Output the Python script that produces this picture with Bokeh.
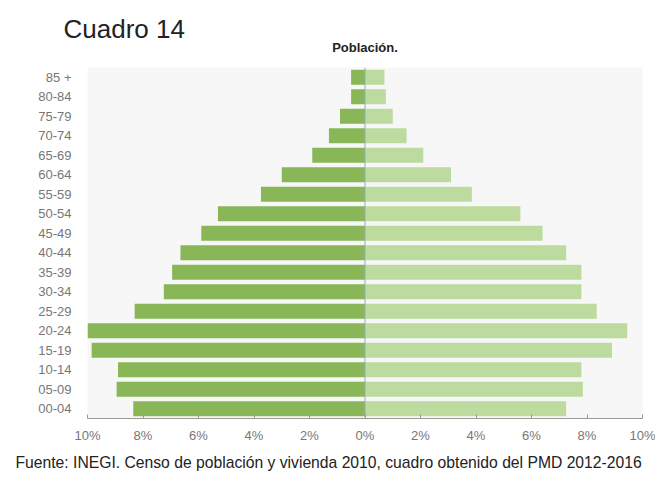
from bokeh.plotting import figure
from bokeh.models import (Range1d, FactorRange, FixedTicker, CustomJSTickFormatter,
                          Span, Title, ColumnDataSource)
from bokeh.embed import file_html
from bokeh.resources import INLINE

age_groups = ["00-04", "05-09", "10-14", "15-19", "20-24", "25-29", "30-34", "35-39",
              "40-44", "45-49", "50-54", "55-59", "60-64", "65-69", "70-74", "75-79",
              "80-84", "85 +"]
left_pct = [8.35, 8.95, 8.9, 9.85, 10.05, 8.3, 7.25, 6.95, 6.65, 5.9, 5.3, 3.75,
            3.0, 1.9, 1.3, 0.9, 0.5, 0.5]
right_pct = [7.25, 7.85, 7.8, 8.9, 9.45, 8.35, 7.8, 7.8, 7.25, 6.4, 5.6, 3.85,
             3.1, 2.1, 1.5, 1.0, 0.75, 0.7]
tick_values = [-10, -8, -6, -4, -2, 0, 2, 4, 6, 8, 10]

title_text = "Cuadro 14"
subtitle_text = "Población."
source_text = "Fuente: INEGI. Censo de población y vivienda 2010, cuadro obtenido del PMD 2012-2016"

src = ColumnDataSource(dict(age=age_groups,
                            left_neg=[-v for v in left_pct],
                            right=right_pct))

p = figure(width=655, height=481, output_backend="svg", toolbar_location=None,
           x_range=Range1d(-10, 10), y_range=FactorRange(*age_groups, range_padding=0),
           min_border_left=87, min_border_right=13, min_border_top=67, min_border_bottom=63,
           title=title_text)
p.title.align = "left"
p.title.offset = -24
p.title.text_font = "Liberation Sans"
p.title.text_font_size = "26px"
p.title.text_font_style = "normal"
p.title.text_color = "#222222"
p.title.standoff = -36

p.add_layout(Title(text=subtitle_text, align="center", text_font="Liberation Sans",
                   text_font_size="13px", text_font_style="bold", text_color="#222222",
                   standoff=25),
             "above")
p.add_layout(Title(text=source_text, align="left", offset=-72, text_font="Liberation Sans",
                   text_font_size="15.7px", text_font_style="normal", text_color="#222222",
                   standoff=12),
             "below")

p.background_fill_color = "#f7f7f7"
p.border_fill_color = "#ffffff"
p.outline_line_color = None
p.grid.visible = False

p.hbar(y="age", left="left_neg", right=0, height=0.78, source=src,
       fill_color="#89b657", line_color=None)
p.hbar(y="age", left=0, right="right", height=0.78, source=src,
       fill_color="#bddb9e", line_color=None)

p.add_layout(Span(location=0, dimension="height", line_color="#9aaab8", line_width=1))

p.xaxis.ticker = FixedTicker(ticks=tick_values)
p.xaxis.formatter = CustomJSTickFormatter(code="return Math.abs(tick) + '%';")
p.xaxis.axis_line_color = "#999999"
p.xaxis.major_tick_line_color = "#999999"
p.xaxis.major_tick_in = 4
p.xaxis.major_tick_out = 0
p.xaxis.minor_tick_line_color = None
p.xaxis.major_label_text_color = "#777777"
p.xaxis.major_label_text_font = "Liberation Sans"
p.xaxis.major_label_text_font_size = "13px"
p.xaxis.major_label_standoff = 9

p.yaxis.axis_line_color = None
p.yaxis.major_tick_line_color = None
p.yaxis.minor_tick_line_color = None
p.yaxis.major_label_text_color = "#777777"
p.yaxis.major_label_text_font = "Liberation Sans"
p.yaxis.major_label_text_font_size = "13px"
p.yaxis.major_label_standoff = 10

open("out.html", "w").write(file_html(p, INLINE))
